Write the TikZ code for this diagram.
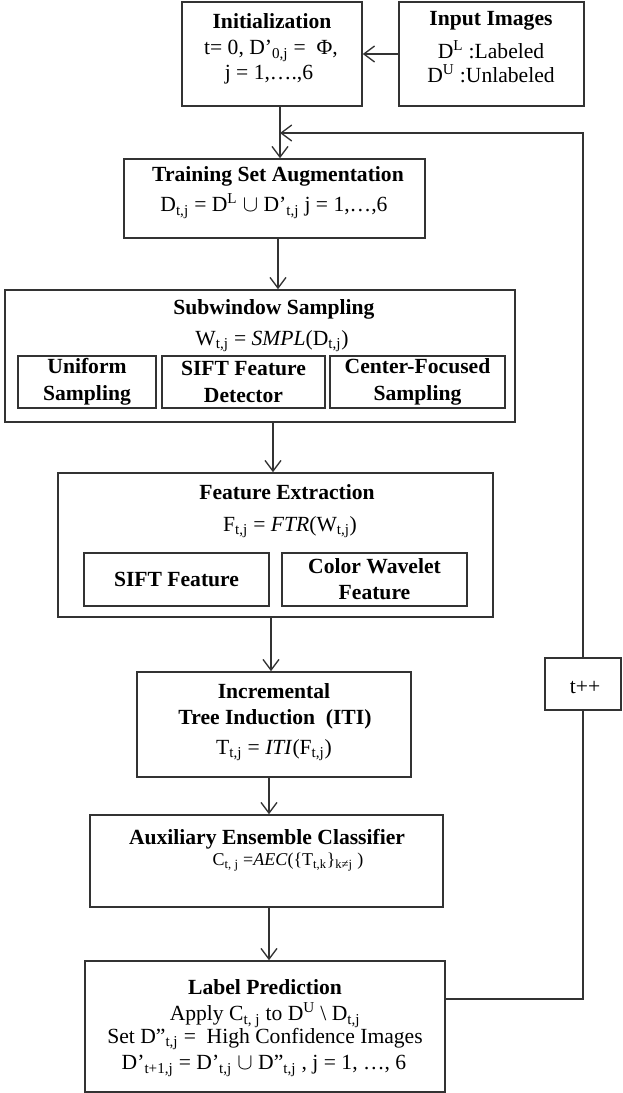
\documentclass[tikz,border=0pt]{standalone}
\usepackage{fontspec}
\setmainfont{Liberation Serif}
\usetikzlibrary{arrows.meta,fit}

\definecolor{boxgrey}{RGB}{51,51,51}
\tikzset{every picture/.style={line width=0.75pt}}
\tikzset{
  box/.style={draw=boxgrey, line width=1.2pt, inner sep=0pt, rectangle},
  ttl/.style={font=\fontsize{16.2}{20}\selectfont\bfseries, align=center, inner sep=0.5pt},
  txt/.style={font=\fontsize{16.2}{20}\selectfont, align=center, inner sep=0.5pt},
  conn/.style={draw=boxgrey, line width=1pt},
  arr/.style={conn, -{Straight Barb[length=8pt,width=12pt]}},
}

\begin{document}
\begin{tikzpicture}[x=0.75pt,y=0.75pt,yscale=-1,xscale=1]
\useasboundingbox (0,0) rectangle (622,1093);

%Shape: Rectangle
\node[box, fit={(182,2) (362,106)}] (init) {};
%Shape: Rectangle
\node[box, fit={(399,2) (584,106)}] (inpt) {};
%Shape: Rectangle
\node[box, fit={(124,159) (425,238)}] (train) {};
%Shape: Rectangle
\node[box, fit={(5,290) (515,422)}] (subwin) {};
\node[box, fit={(18,356) (156,408)}] (unif) {};
\node[box, fit={(162,356) (325,408)}] (siftdet) {};
\node[box, fit={(330,356) (505,408)}] (center) {};
%Shape: Rectangle
\node[box, fit={(58,473) (493,617)}] (feat) {};
\node[box, fit={(84,553) (269,606)}] (siftfeat) {};
\node[box, fit={(282,553) (467,606)}] (wavelet) {};
%Shape: Rectangle
\node[box, fit={(137,672) (411,777)}] (iti) {};
%Shape: Rectangle
\node[box, fit={(90,815) (443,907)}] (aec) {};
%Shape: Rectangle
\node[box, fit={(85,961) (445,1092)}] (lp) {};
%Shape: Rectangle
\node[box, fit={(545,658) (621,710)}] (tpp) {};

% Text Node
\node[ttl] (initT) at (272,21) {Initialization};
\node[txt] (initA) at (271,51) {t= 0, D’\textsubscript{0,j} = \ Φ,};
\node[txt] (initB) at (269,75) {j = 1,….,6};
% Text Node
\node[ttl] (inptT) at (491,21) {Input Images};
\node[txt] (inptA) at (491,50) {D\textsuperscript{L} :Labeled};
\node[txt] (inptB) at (491,74) {D\textsuperscript{U} :Unlabeled};
% Text Node
\node[ttl] (trainT) at (278,176) {Training Set Augmentation};
\node[txt] (trainA) at (274,206) {D\textsubscript{t,j} = D\textsuperscript{L} $\cup$ D’\textsubscript{t,j} j = 1,…,6};
% Text Node
\node[ttl] (subwinT) at (274,309) {Subwindow Sampling};
\node[txt] (subwinA) at (272,341) {W\textsubscript{t,j} = \textit{SMPL}(D\textsubscript{t,j})};
\node[ttl] (unifT) at (unif) {Uniform\\Sampling};
\node[ttl] (siftdetT) at (siftdet) {SIFT Feature\\Detector};
\node[ttl] (centerT) at (center) {Center-Focused\\Sampling};
% Text Node
\node[ttl] (featT) at (287,492) {Feature Extraction};
\node[txt] (featA) at (290,527) {F\textsubscript{t,j} = \textit{FTR}(W\textsubscript{t,j})};
\node[ttl] (siftfeatT) at (siftfeat) {SIFT Feature};
\node[ttl, font=\fontsize{16.2}{19.5}\selectfont\bfseries] (waveletT) at (wavelet) {Color Wavelet\\Feature};
% Text Node
\node[ttl] (itiT) at (274,691) {Incremental};
\node[ttl] (itiU) at (275,719) {Tree Induction \ (ITI)};
\node[txt] (itiA) at (274,750) {T\textsubscript{t,j} = \textit{ITI}(F\textsubscript{t,j})};
% Text Node
\node[ttl] (aecT) at (267,839) {Auxiliary Ensemble Classifier};
\node[txt, font=\fontsize{13.5}{16}\selectfont] (aecA) at (288,862) {C\textsubscript{t, j} =\textit{AEC}(\{T\textsubscript{t,k}\}\textsubscript{k≠j} )};
% Text Node
\node[ttl] (lpT) at (265,987) {Label Prediction};
\node[txt] (lpA) at (265,1015) {Apply C\textsubscript{t, j} to D\textsuperscript{U} \textbackslash{} D\textsubscript{t,j}};
\node[txt] (lpB) at (265,1039) {Set D”\textsubscript{t,j} = \ High Confidence Images};
\node[txt] (lpC) at (264,1066) {D’\textsubscript{t+1,j} = D’\textsubscript{t,j} $\cup$ D”\textsubscript{t,j} , j = 1, …, 6};
% Text Node
\node[txt] (tppT) at (585,687) {t++};

%Straight Lines
\coordinate (join) at (280,133);
\coordinate (lpout) at (445,999);
\coordinate (ax1) at (278,0);
\coordinate (ax2) at (273,0);
\coordinate (ax3) at (271,0);
\coordinate (ax4) at (269,0);
\draw[arr] (inpt.west) -- (init.east);
\draw[conn] (init.south -| join) -- (join);
\draw[arr] (join) -- (train.north -| join);
\draw[arr] (train.south -| ax1) -- (subwin.north -| ax1);
\draw[arr] (subwin.south -| ax2) -- (feat.north -| ax2);
\draw[arr] (feat.south -| ax3) -- (iti.north -| ax3);
\draw[arr] (iti.south -| ax4) -- (aec.north -| ax4);
\draw[arr] (aec.south -| ax4) -- (lp.north -| ax4);
%Feedback
\draw[conn] (lpout) -| (tpp.south);
\draw[arr] (tpp.north) |- (join);

\end{tikzpicture}
\end{document}
